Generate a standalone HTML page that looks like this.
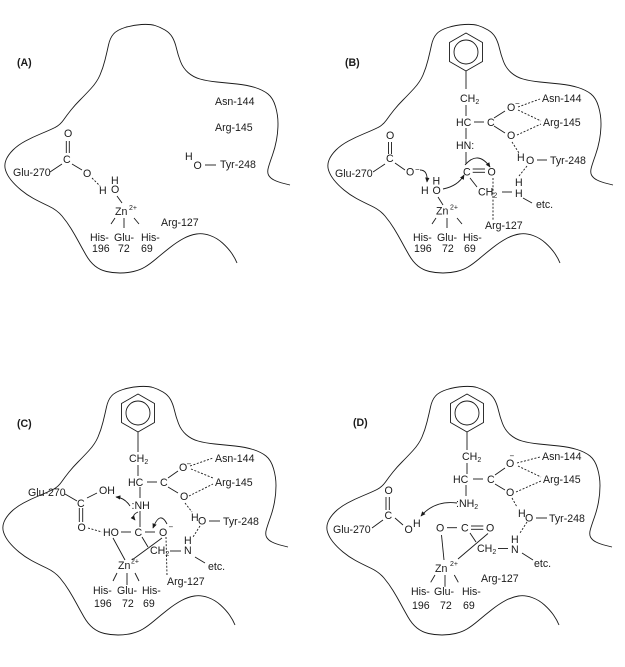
<!DOCTYPE html>
<html><head><meta charset="utf-8"><style>
html,body{margin:0;padding:0;background:#fff;}
svg{display:block;}
text{font-family:"Liberation Sans",Arial,sans-serif;font-size:10.6px;fill:#1a1a1a;}
.b{font-weight:bold;}
.s{font-size:7px;}
.m{font-size:8px;}
</style></head><body>
<svg width="625" height="667" viewBox="0 0 625 667" xmlns="http://www.w3.org/2000/svg">
<defs>
<path id="blob" d="M290,185 L284,183.5 Q278,182 274,180 Q270,178 268.5,175 Q267,172 268.5,167 Q270,162 272.5,155 Q275,148 276.5,140 Q278,132 278,123.5 Q278,115 275.5,106.5 Q273,98 268,94 Q263,90 255,87.5 Q247,85 237,84 Q227,83 217,82 Q207,81 200,79 Q193,77 188,72.5 Q183,68 180.5,61.5 Q178,55 176.5,48.5 Q175,42 172.5,37.5 Q170,33 165,30 Q160,27 155,25.5 Q150,24 141.5,24.5 Q133,25 125,27.5 Q117,30 113.5,34 Q110,38 108.5,45 Q107,52 105,60 Q103,68 100,75 Q97,82 91,88.5 Q85,95 80,100 Q75,105 71,110 Q67,115 63.5,120 Q60,125 55,127.5 Q50,130 41.5,133.5 Q33,137 25.5,141 Q18,145 13,150 Q8,155 6,160 Q4,165 5.5,170 Q7,175 11,180 Q15,185 21,190 Q27,195 33.5,198.5 Q40,202 48.5,206 Q57,210 62,216 Q67,222 71,228.5 Q75,235 78.5,241.5 Q82,248 86,255 Q90,262 95,266 Q100,270 106.5,271.5 Q113,273 120,273 Q127,273 133.5,271.5 Q140,270 145,267 Q150,264 156.5,258.5 Q163,253 170,247.5 Q177,242 183.5,238.5 Q190,235 196.5,234 Q203,233 210,235.5 Q217,238 222.5,243 Q228,248 231.5,253 Q235,258 237,263"/>
<marker id="a" viewBox="0 0 8 8" refX="7" refY="4" markerWidth="5" markerHeight="5" markerUnits="userSpaceOnUse" orient="auto"><path d="M0,0.5 L8,4 L0,7.5z" fill="#1a1a1a" stroke="none"/></marker>
</defs>

<g fill="none" stroke="#1a1a1a" stroke-width="0.9">
<use href="#blob"/>
<use href="#blob" transform="translate(323,0)"/>
<use href="#blob" transform="translate(-2,362)"/>
<use href="#blob" transform="translate(322,362)"/>
</g>

<!-- ================= PANEL A ================= -->
<g stroke="#1a1a1a" stroke-width="0.9" fill="none">
<line x1="205" y1="165" x2="216" y2="165"/>
<line x1="50" y1="172" x2="62" y2="164"/>
<line x1="66.3" y1="141" x2="66.3" y2="153"/>
<line x1="69.3" y1="141" x2="69.3" y2="153"/>
<line x1="72" y1="164" x2="82" y2="170"/>
<line x1="92" y1="178" x2="100" y2="186" stroke-dasharray="2,1.6"/>
<line x1="117" y1="196" x2="122" y2="203"/>
<line x1="115" y1="218" x2="111" y2="224"/>
<line x1="124" y1="218" x2="124" y2="228"/>
<line x1="134" y1="218" x2="139" y2="224"/>
</g>
<text x="17" y="66" class="b">(A)</text>
<text x="215" y="105">Asn-144</text>
<text x="215" y="131">Arg-145</text>
<text x="185" y="160">H</text>
<text x="193.5" y="169">O</text>
<text x="220" y="168">Tyr-248</text>
<text x="13" y="176">Glu-270</text>
<text x="63" y="163">C</text>
<text x="64" y="137">O</text>
<text x="83" y="177">O</text>
<text x="99" y="194">H</text>
<text x="111" y="193">O</text>
<text x="111" y="184">H</text>
<text x="115" y="215">Zn</text><text x="129" y="210" class="s">2+</text>
<text x="90" y="241">His-</text><text x="92" y="252">196</text>
<text x="114" y="241">Glu-</text><text x="118" y="252">72</text>
<text x="141" y="241">His-</text><text x="141" y="252">69</text>
<text x="161" y="226">Arg-127</text>

<!-- ================= PANEL B ================= -->
<g stroke="#1a1a1a" stroke-width="0.9" fill="none">
<polygon points="466,33 482.5,42.5 482.5,61.5 466,71 449.5,61.5 449.5,42.5"/>
<circle cx="466" cy="52" r="12"/>
<line x1="466" y1="71" x2="466" y2="89"/>
<line x1="466" y1="105" x2="466" y2="116"/>
<line x1="474" y1="122" x2="484" y2="122"/>
<line x1="494" y1="118" x2="505" y2="111"/>
<line x1="494" y1="126" x2="505" y2="133"/>
<g stroke-dasharray="2,1.6">
<line x1="518" y1="107" x2="540" y2="99"/>
<line x1="518" y1="110" x2="541" y2="121"/>
<line x1="517" y1="135" x2="541" y2="124"/>
<line x1="512" y1="142" x2="519" y2="153"/>
<line x1="527" y1="166" x2="519" y2="176"/>
<line x1="493" y1="178" x2="493" y2="220"/>
</g>
<line x1="537" y1="160" x2="547" y2="160"/>
<line x1="502" y1="192" x2="512" y2="192"/>
<line x1="523" y1="198" x2="532" y2="203"/>
<line x1="466" y1="128" x2="466" y2="139"/>
<line x1="466" y1="152" x2="466" y2="164"/>
<line x1="472.7" y1="169" x2="485" y2="169"/>
<line x1="472.7" y1="172.3" x2="485" y2="172.3"/>
<path d="M465,165 Q478,150 490,167" marker-end="url(#a)"/>
<line x1="470" y1="178" x2="477" y2="187"/>
<line x1="388.5" y1="142" x2="388.5" y2="154"/>
<line x1="391.5" y1="142" x2="391.5" y2="154"/>
<line x1="373" y1="172" x2="385" y2="164"/>
<line x1="395" y1="163" x2="405" y2="170"/>
<path d="M420,170 Q428,170 427,182" marker-end="url(#a)"/>
<path d="M443,189 Q458,186 464,175" marker-end="url(#a)"/>
<line x1="438" y1="197" x2="443" y2="205"/>
<line x1="436" y1="218" x2="432" y2="224"/>
<line x1="447" y1="218" x2="447" y2="228"/>
<line x1="457" y1="218" x2="462" y2="224"/>
</g>
<text x="345" y="66" class="b">(B)</text>
<text x="460" y="102">CH<tspan class="s" dy="2">2</tspan></text>
<text x="456" y="126">HC</text>
<text x="487" y="126">C</text>
<text x="507" y="111">O</text><text x="515" y="106" class="m">−</text>
<text x="507" y="139">O</text>
<text x="542" y="102">Asn-144</text>
<text x="543" y="126">Arg-145</text>
<text x="517" y="161">H</text>
<text x="526" y="164">O</text>
<text x="550" y="164">Tyr-248</text>
<text x="515" y="186">H</text>
<text x="515" y="197">H</text>
<text x="478" y="195.5">CH<tspan class="s" dy="2">2</tspan></text>
<text x="536" y="208">etc.</text>
<text x="485" y="229">Arg-127</text>
<text x="456" y="149">HN:</text>
<text x="463" y="175.5">C</text>
<text x="487.5" y="175.5">O</text>
<text x="386" y="139">O</text>
<text x="386" y="162">C</text>
<text x="335" y="177">Glu-270</text>
<text x="406" y="175.5">O</text><text x="415" y="172" class="m">−</text>
<text x="421" y="194">H</text>
<text x="432.5" y="194">O</text>
<text x="432.5" y="184.5">H</text>
<text x="436" y="214.5">Zn</text><text x="450" y="209.5" class="s">2+</text>
<text x="413" y="241">His-</text><text x="414" y="252">196</text>
<text x="437" y="241">Glu-</text><text x="442" y="252">72</text>
<text x="463" y="241">His-</text><text x="464" y="252">69</text>

<!-- ================= PANEL C ================= -->
<g stroke="#1a1a1a" stroke-width="0.9" fill="none">
<polygon points="138,394 154.5,403.5 154.5,422.5 138,432 121.5,422.5 121.5,403.5"/>
<circle cx="138" cy="413" r="12"/>
<line x1="138" y1="432" x2="138" y2="452"/>
<line x1="138" y1="465" x2="138" y2="476"/>
<line x1="147" y1="482" x2="157" y2="482"/>
<line x1="168" y1="478" x2="178" y2="471"/>
<line x1="168" y1="487" x2="178" y2="493"/>
<g stroke-dasharray="2,1.6">
<line x1="190" y1="466" x2="213" y2="458"/>
<line x1="191" y1="469" x2="213" y2="478"/>
<line x1="189" y1="496" x2="213" y2="484"/>
<line x1="185" y1="503" x2="192" y2="512"/>
<line x1="200" y1="526" x2="193" y2="537"/>
<line x1="166" y1="537" x2="167" y2="575"/>
<line x1="88" y1="528" x2="102" y2="532"/>
</g>
<line x1="209" y1="521" x2="220" y2="521"/>
<line x1="170" y1="551" x2="181" y2="551"/>
<line x1="195" y1="557" x2="205" y2="563"/>
<line x1="65" y1="494" x2="77" y2="501"/>
<line x1="87" y1="498" x2="97" y2="493"/>
<line x1="79.3" y1="508" x2="79.3" y2="522"/>
<line x1="82.7" y1="508" x2="82.7" y2="522"/>
<line x1="121" y1="532" x2="131" y2="532"/>
<line x1="145" y1="532" x2="155" y2="532"/>
<line x1="140" y1="487" x2="140" y2="498"/>
<line x1="140" y1="511" x2="140" y2="527"/>
<path d="M138,512 Q131,515 135,520" marker-end="url(#a)"/>
<path d="M130,506 Q125,498 116,497" marker-end="url(#a)"/>
<path d="M167,524 Q160,510 153,528" marker-end="url(#a)"/>
<line x1="113" y1="538" x2="125" y2="560"/>
<line x1="162" y1="538" x2="132" y2="560"/>
<line x1="142" y1="537" x2="148" y2="547"/>
<line x1="117" y1="573" x2="113" y2="581"/>
<line x1="127" y1="573" x2="127" y2="585"/>
<line x1="135" y1="573" x2="139" y2="581"/>
</g>
<text x="17" y="427" class="b">(C)</text>
<text x="129" y="462">CH<tspan class="s" dy="2">2</tspan></text>
<text x="128" y="486">HC</text>
<text x="160" y="486">C</text>
<text x="179" y="471">O</text><text x="186.5" y="466.5" class="m">−</text>
<text x="180" y="500">O</text>
<text x="215" y="462">Asn-144</text>
<text x="215" y="486">Arg-145</text>
<text x="191" y="521">H</text>
<text x="198" y="524.5">O</text>
<text x="223" y="525">Tyr-248</text>
<text x="184" y="544">H</text>
<text x="184" y="554">N</text>
<text x="150" y="554">CH<tspan class="s" dy="2">2</tspan></text>
<text x="208" y="570">etc.</text>
<text x="167" y="585">Arg-127</text>
<text x="28" y="496">Glu-270</text>
<text x="77" y="507">C</text>
<text x="99" y="494">OH</text>
<text x="77.5" y="531">O</text>
<text x="103" y="536">HO</text>
<text x="134.5" y="536">C</text>
<text x="159" y="536">O</text><text x="168.5" y="529.5" class="m">−</text>
<text x="131.5" y="509">:NH</text>
<text x="118" y="569">Zn</text><text x="131" y="563.5" class="s">2+</text>
<text x="93" y="594">His-</text><text x="94" y="607">196</text>
<text x="117" y="594">Glu-</text><text x="122" y="607">72</text>
<text x="142" y="594">His-</text><text x="143" y="607">69</text>

<!-- ================= PANEL D ================= -->
<g stroke="#1a1a1a" stroke-width="0.9" fill="none">
<polygon points="467,394 483.5,403.5 483.5,422.5 467,432 450.5,422.5 450.5,403.5"/>
<circle cx="467" cy="413" r="12"/>
<line x1="467" y1="432" x2="467" y2="450"/>
<line x1="467" y1="463" x2="467" y2="474"/>
<line x1="473" y1="479" x2="483" y2="479"/>
<line x1="495" y1="475" x2="505" y2="468"/>
<line x1="495" y1="484" x2="505" y2="490"/>
<g stroke-dasharray="2,1.6">
<line x1="517" y1="463" x2="540" y2="457"/>
<line x1="518" y1="466" x2="541" y2="477"/>
<line x1="516" y1="492" x2="541" y2="481"/>
<line x1="512" y1="498" x2="517" y2="507"/>
<line x1="527" y1="522" x2="520" y2="533"/>
</g>
<line x1="536" y1="518" x2="547" y2="518"/>
<line x1="498" y1="548.5" x2="508" y2="548.5"/>
<line x1="522" y1="553" x2="533" y2="560"/>
<line x1="466" y1="485" x2="466" y2="496"/>
<path d="M457,503 Q435,500 421,516" marker-end="url(#a)"/>
<line x1="386" y1="497" x2="386" y2="510"/>
<line x1="389.3" y1="497" x2="389.3" y2="510"/>
<line x1="372" y1="528" x2="383" y2="520"/>
<line x1="395" y1="518" x2="403" y2="525"/>
<line x1="447" y1="527.7" x2="457" y2="527.7"/>
<line x1="471" y1="526" x2="483.3" y2="526"/>
<line x1="471" y1="529.3" x2="483.3" y2="529.3"/>
<line x1="441.5" y1="535" x2="444" y2="560"/>
<line x1="488" y1="533.5" x2="458" y2="559"/>
<line x1="470" y1="533" x2="476" y2="542"/>
<line x1="435" y1="575" x2="430.7" y2="582.3"/>
<line x1="445" y1="575" x2="445" y2="586.7"/>
<line x1="454.3" y1="575" x2="458.3" y2="582.3"/>
</g>
<text x="353" y="426" class="b">(D)</text>
<text x="462" y="460">CH<tspan class="s" dy="2">2</tspan></text>
<text x="453" y="483">HC</text>
<text x="487" y="483">C</text>
<text x="506" y="467">O</text><text x="509.5" y="458.5" class="m">−</text>
<text x="506" y="496">O</text>
<text x="542" y="460">Asn-144</text>
<text x="543" y="483">Arg-145</text>
<text x="518" y="517">H</text>
<text x="525" y="521.5">O</text>
<text x="549" y="522">Tyr-248</text>
<text x="511" y="543">H</text>
<text x="511" y="553">N</text>
<text x="477" y="552">CH<tspan class="s" dy="2">2</tspan></text>
<text x="534" y="567">etc.</text>
<text x="481" y="582">Arg-127</text>
<text x="456" y="507">:NH<tspan class="s" dy="2">2</tspan></text>
<text x="384.5" y="494">O</text>
<text x="384.5" y="519">C</text>
<text x="333" y="533">Glu-270</text>
<text x="404.5" y="533">O</text>
<text x="413" y="527">H</text>
<text x="436" y="531.5">O</text>
<text x="461" y="531.5">C</text>
<text x="486" y="531.5">O</text>
<text x="435" y="572">Zn</text><text x="450" y="566" class="s">2+</text>
<text x="411" y="595">His-</text><text x="412" y="609">196</text>
<text x="434" y="595">Glu-</text><text x="440" y="609">72</text>
<text x="462" y="595">His-</text><text x="463" y="609">69</text>
</svg>
</body></html>
